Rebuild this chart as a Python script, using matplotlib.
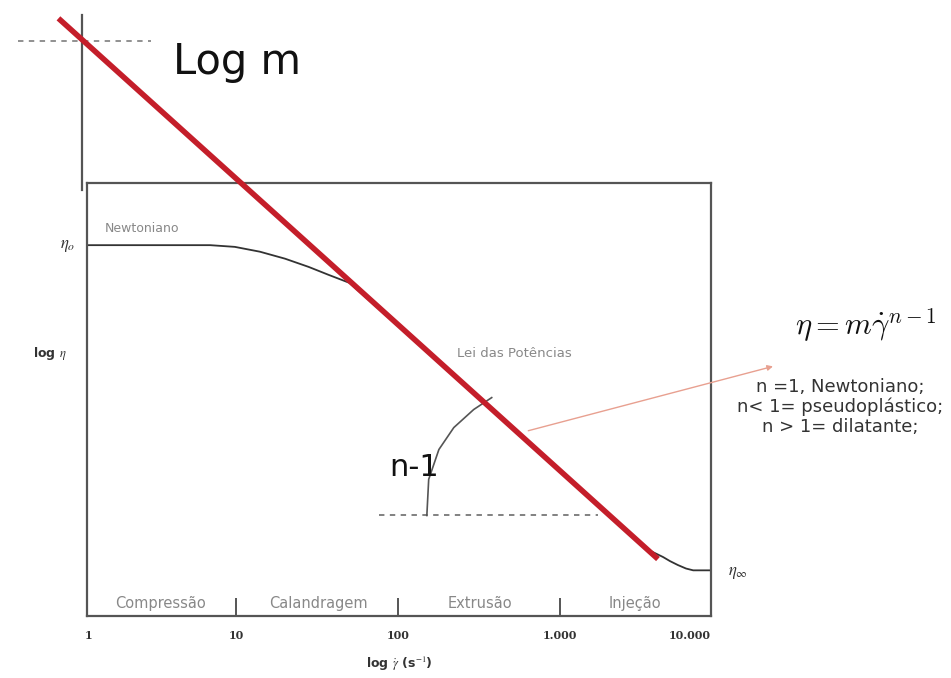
import matplotlib.pyplot as plt

plt.rcParams['mathtext.fontset'] = 'stix'

gamma_curve = [1.2, 2.9, 6.9, 9.8, 14, 20, 28, 37, 50, 100, 420, 1700, 3500,
               4300, 4750, 5300, 5960, 6600, 8400]
eta_curve = [5000, 5000, 5000, 4920, 4700, 4400, 4070, 3780, 3500, 2330, 1000,
             430, 280, 262, 252, 243, 235, 231, 231]

# power-law tangent (red line), two end points
gamma_red = [0.8, 4000]
eta_red = [42700, 257]

# "Log m" guide and outer vertical axis
gamma_logm = [0.45, 3.0]
eta_logm = [34400, 34400]
gamma_axis = [1.12, 1.12]
eta_axis = [8420, 44000]

# n-1 slope marker
gamma_base = [76, 1714]
eta_base = [388, 388]
gamma_arc = [150, 154, 178, 220, 292, 377]
eta_arc = [388, 546, 724, 891, 1057, 1183]

tick_pos = [10, 100, 1000]
label_pos = [1.23, 10, 100, 1000, 6300]
tick_labels = ['1', '10', '100', '1.000', '10.000']
regions = ['Compressão', 'Calandragem', 'Extrusão', 'Injeção']
region_x = [3.4, 32, 320, 2900]

gray = '#555555'

fig = plt.figure(figsize=(9.51, 6.78), dpi=100)
ax = fig.add_axes([87 / 951, 62 / 678, 624 / 951, 433 / 678])
ax.set_xscale('log')
ax.set_yscale('log')
ax.set_xlim(1.2, 8500)
ax.set_ylim(150, 9000)

for s in ax.spines.values():
    s.set_color(gray)
    s.set_linewidth(1.6)

ax.set_yticks([])
ax.set_yticks([], minor=True)
ax.set_xticks(label_pos, tick_labels, fontsize=8, family='DejaVu Serif',
              fontweight='bold', color='#333333')
ax.set_xticks(tick_pos, minor=True)
ax.set_xticklabels([], minor=True)
ax.xaxis.remove_overlapping_locs = False
ax.tick_params(axis='x', which='major', length=0, pad=10)
ax.tick_params(axis='x', which='minor', direction='in', length=13,
               width=1.4, color=gray)

ax.set_xlabel(r'log $\dot{\gamma}$ (s$^{-1}$)', fontsize=9, fontweight='bold',
              color='#333333', labelpad=10)

# flow curve
ax.plot(gamma_curve, eta_curve, color='#333333', lw=1.3)

# red power-law line
ax.plot(gamma_red, eta_red, color='#c41e2a', lw=4, clip_on=False,
        solid_capstyle='butt', zorder=5)

# outer axis and Log m guide
ax.plot(gamma_axis, eta_axis, color=gray, lw=1.6, clip_on=False)
ax.plot(gamma_logm, eta_logm, color='#888888', lw=1.3, ls=(0, (3, 3)),
        clip_on=False)

# slope marker
ax.plot(gamma_base, eta_base, color='#777777', lw=1.3, ls=(0, (3, 3)))
ax.plot(gamma_arc, eta_arc, color='#555555', lw=1.2)

# arrow to the equation
ax.annotate('', xy=(21300, 1600), xytext=(610, 859), xycoords='data',
            annotation_clip=False,
            arrowprops=dict(arrowstyle='-|>', color='#e8a090', lw=1.0,
                            mutation_scale=8))

# texts inside the box
ax.text(1.55, 5500, 'Newtoniano', fontsize=9, color='#888888', va='bottom')
ax.text(520, 1790, 'Lei das Potências', fontsize=9.5, color='#888888',
        ha='center', va='center')
ax.text(125, 611, 'n-1', fontsize=22, color='#111111', ha='center',
        va='center')
for x, r in zip(region_x, regions):
    ax.text(x, 169, r, fontsize=10.5, color='#888888', ha='center',
            va='center')

# labels outside the box
fig.text(68 / 951, 1 - 245 / 678, r'$\eta_o$', fontsize=12, color='#333333',
         ha='center', va='center')
fig.text(738 / 951, 1 - 572 / 678, r'$\eta_\infty$', fontsize=12,
         color='#333333', ha='center', va='center')
fig.text(50 / 951, 1 - 353 / 678, r'log $\eta$', fontsize=9,
         fontweight='bold', color='#333333', ha='center', va='center')
fig.text(237 / 951, 1 - 62 / 678, 'Log m', fontsize=30, color='#111111',
         ha='center', va='center')

fig.text(866 / 951, 1 - 325 / 678, r'$\eta = m\dot{\gamma}^{n-1}$',
         fontsize=22, color='#111111', ha='center', va='center',
         math_fontfamily='cm')
fig.text(840 / 951, 1 - 407 / 678,
         'n =1, Newtoniano;\nn< 1= pseudoplástico;\nn > 1= dilatante;',
         fontsize=13, color='#333333', ha='center', va='center',
         linespacing=1.15)

fig.savefig('out.png', dpi=100)
